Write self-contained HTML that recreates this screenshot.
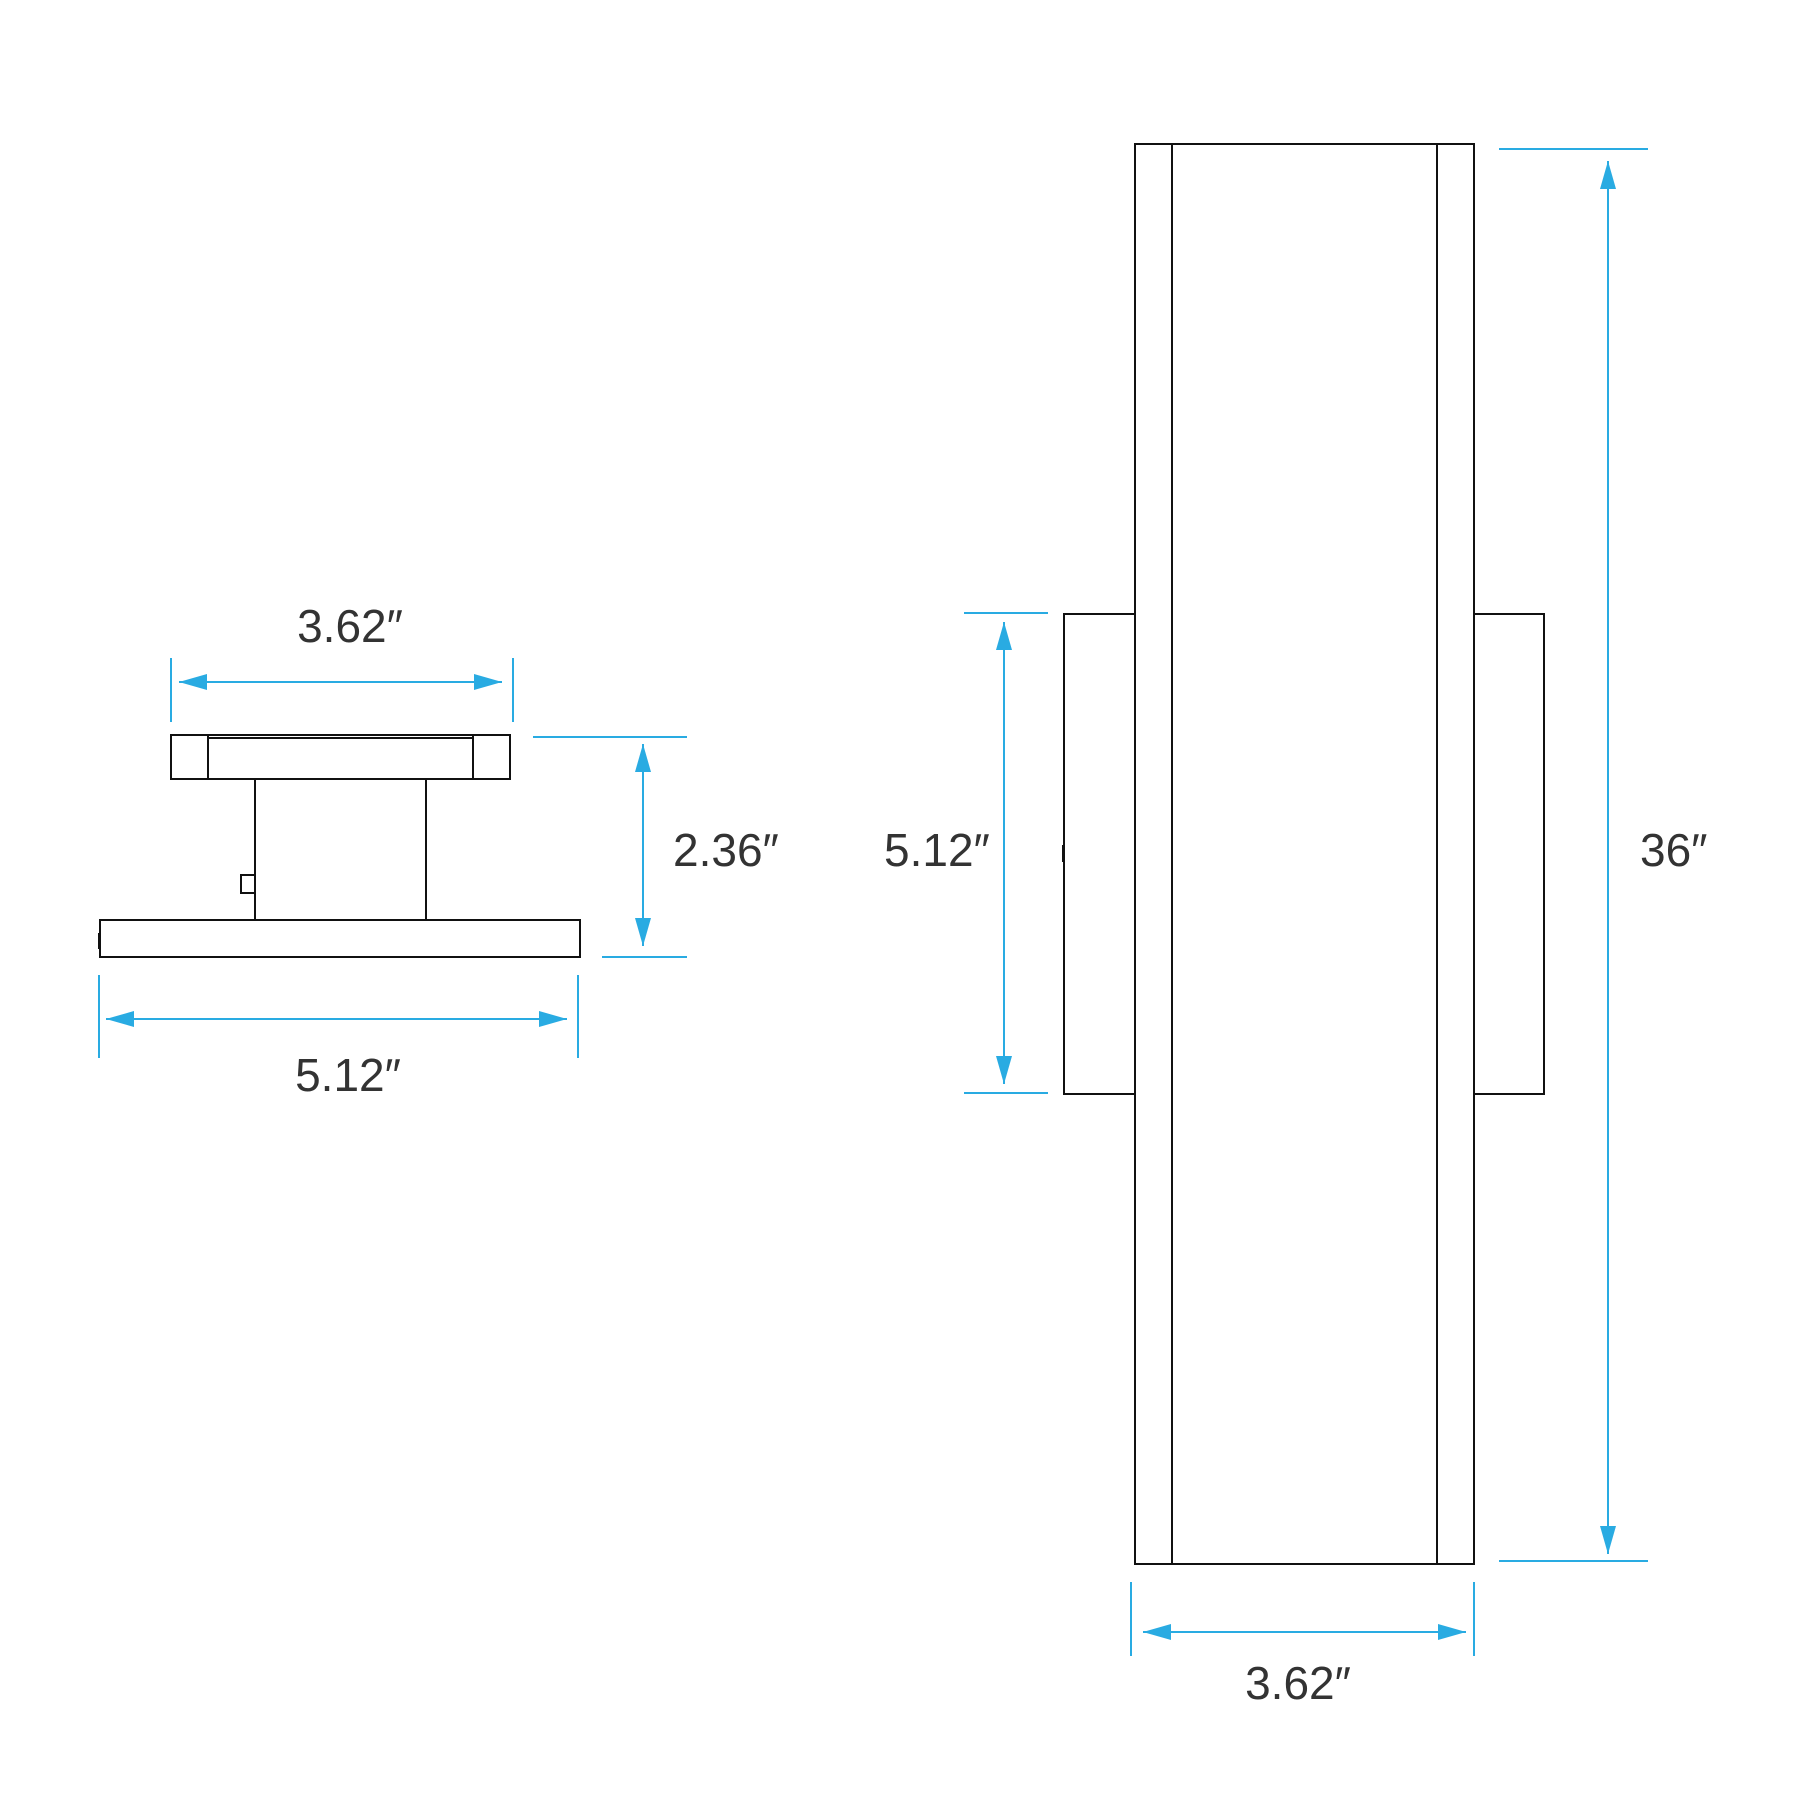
<!DOCTYPE html>
<html><head><style>html,body{margin:0;padding:0;background:#fff}</style></head><body>
<svg width="1800" height="1800" viewBox="0 0 1800 1800" xmlns="http://www.w3.org/2000/svg">
<defs>
<marker id="a" viewBox="0 0 28 16" refX="28" refY="8" markerWidth="28" markerHeight="16" markerUnits="userSpaceOnUse" orient="auto-start-reverse"><path d="M0,0 L28,8 L0,16 Z" fill="#29abe2"/></marker>
</defs>
<g fill="none" stroke="#111" stroke-width="2">
<rect x="171" y="735" width="339" height="44"/>
<line x1="208" y1="735" x2="208" y2="779"/>
<line x1="473" y1="735" x2="473" y2="779"/>
<line x1="208" y1="738" x2="473" y2="738"/>
<line x1="255" y1="779" x2="255" y2="920"/>
<line x1="426" y1="779" x2="426" y2="920"/>
<rect x="241" y="875" width="14" height="18"/>
<rect x="100" y="920" width="480" height="37"/>
<line x1="99" y1="933" x2="99" y2="949"/>
<g transform="translate(-3,-1)">
<rect x="1138" y="145" width="339" height="1420"/>
<line x1="1175" y1="145" x2="1175" y2="1565"/>
<line x1="1440" y1="145" x2="1440" y2="1565"/>
<polyline points="1138,615 1067,615 1067,1095 1138,1095"/>
<polyline points="1477,615 1547,615 1547,1095 1477,1095"/>
<line x1="1066" y1="846" x2="1066" y2="863"/>
</g>
</g>
<g stroke="#29abe2" stroke-width="2" fill="none">
<line x1="171" y1="658" x2="171" y2="722"/>
<line x1="513" y1="658" x2="513" y2="722"/>
<line x1="179" y1="682" x2="502" y2="682" marker-start="url(#a)" marker-end="url(#a)"/>
<line x1="533" y1="737" x2="687" y2="737"/>
<line x1="602" y1="957" x2="687" y2="957"/>
<line x1="643" y1="744" x2="643" y2="946" marker-start="url(#a)" marker-end="url(#a)"/>
<line x1="99" y1="975" x2="99" y2="1058"/>
<line x1="578" y1="975" x2="578" y2="1058"/>
<line x1="106" y1="1019" x2="567" y2="1019" marker-start="url(#a)" marker-end="url(#a)"/>
<g transform="translate(-3,-1)">
<line x1="967" y1="614" x2="1051" y2="614"/>
<line x1="967" y1="1094" x2="1051" y2="1094"/>
<line x1="1007" y1="623" x2="1007" y2="1085" marker-start="url(#a)" marker-end="url(#a)"/>
<line x1="1502" y1="150" x2="1651" y2="150"/>
<line x1="1502" y1="1562" x2="1651" y2="1562"/>
<line x1="1611" y1="162" x2="1611" y2="1555" marker-start="url(#a)" marker-end="url(#a)"/>
<line x1="1134" y1="1583" x2="1134" y2="1657"/>
<line x1="1477" y1="1583" x2="1477" y2="1657"/>
<line x1="1146" y1="1633" x2="1469" y2="1633" marker-start="url(#a)" marker-end="url(#a)"/>
</g>
</g>
<g font-family="Liberation Sans, sans-serif" font-size="46" fill="#333">
<text x="350" y="642" text-anchor="middle">3.62″</text>
<text x="673" y="866">2.36″</text>
<text x="348" y="1091" text-anchor="middle">5.12″</text>
<text x="884" y="866">5.12″</text>
<text x="1640" y="866">36″</text>
<text x="1298" y="1699" text-anchor="middle">3.62″</text>
</g>
</svg>
</body></html>
